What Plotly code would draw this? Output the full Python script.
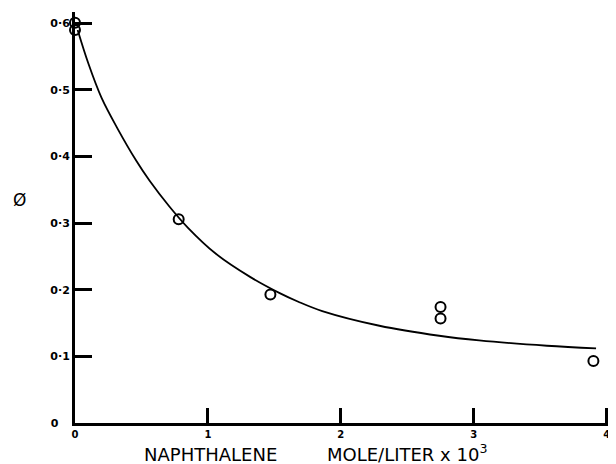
import plotly.graph_objects as go

# Measured points (naphthalene concentration x 10^3 mol/L, quantum yield)
pt_x = [0.0, 0.0, 0.78, 1.47, 2.75, 2.75, 3.90]
pt_y = [0.601, 0.590, 0.306, 0.193, 0.174, 0.157, 0.093]

# Drawn smooth curve
curve_x = [0.02, 0.10, 0.20, 0.32, 0.46, 0.56, 0.71, 0.85, 1.06, 1.32, 1.54, 1.68, 1.86, 2.29, 2.74, 3.04, 3.55, 3.92]
curve_y = [0.590, 0.540, 0.488, 0.442, 0.394, 0.364, 0.325, 0.293, 0.254, 0.219, 0.195, 0.182, 0.168, 0.146, 0.131, 0.124, 0.116, 0.112]

x_tickvals = [0, 1, 2, 3, 4]
x_ticktext = ["0", "1", "2", "3", "4"]
y_tickvals = [0, 0.1, 0.2, 0.3, 0.4, 0.5, 0.6]
y_ticktext = ["0\u00a0\u00a0\u00a0", "0·1", "0·2", "0·3", "0·4", "0·5", "0·6"]

FONT = "DejaVu Sans"

# page body has an 8px margin, so the figure is shrunk by 8px to fit the window
W, H = 608, 456
ML, MR, MT, MB = 67, 0, 4, 41
plot_w = W - ML - MR
plot_h = H - MT - MB

fig = go.Figure()
fig.add_trace(go.Scatter(
    x=curve_x, y=curve_y, mode="lines",
    line=dict(color="black", width=1.8, shape="spline", smoothing=1.0),
    hoverinfo="skip", showlegend=False,
))
fig.add_trace(go.Scatter(
    x=pt_x, y=pt_y, mode="markers",
    marker=dict(symbol="circle-open", size=10, color="black", line=dict(width=2, color="black")),
    cliponaxis=False, showlegend=False,
))

fig.update_layout(
    width=W, height=H,
    margin=dict(l=ML, r=MR, t=MT, b=MB, pad=0),
    paper_bgcolor="white", plot_bgcolor="white",
    font=dict(family=FONT, color="black"),
    showlegend=False,
    xaxis=dict(
        range=[0, 4.07], showgrid=False, zeroline=False,
        showline=True, linecolor="black", linewidth=3,
        ticks="inside", ticklen=15, tickwidth=2.5, tickcolor="black",
        tickvals=x_tickvals, ticktext=x_ticktext,
        tickfont=dict(size=10, family=FONT, color="black", weight="bold"),
    ),
    yaxis=dict(
        range=[0, 0.617], showgrid=False, zeroline=False,
        showline=True, linecolor="black", linewidth=3,
        ticks="inside", ticklen=17, tickwidth=2.5, tickcolor="black",
        tickvals=y_tickvals, ticktext=y_ticktext,
        tickfont=dict(size=11, family=FONT, color="black", weight="bold"),
    ),
    annotations=[
        dict(text="Ø", x=(3 - ML) / plot_w, y=(H - MB - 192) / plot_h,
             xref="paper", yref="paper", showarrow=False,
             font=dict(size=17, family=FONT, color="black")),
        dict(text="NAPHTHALENE", x=1.02, y=0, xref="x", yref="paper",
             yanchor="top", yshift=-19, showarrow=False,
             font=dict(size=18, family=FONT, color="black")),
        dict(text="MOLE/LITER x 10<sup>3</sup>", x=1.88, y=0, xref="x", yref="paper",
             xanchor="left", yanchor="top", yshift=-16, showarrow=False,
             font=dict(size=18, family=FONT, color="black")),
    ],
)

fig.write_html("out.html")
